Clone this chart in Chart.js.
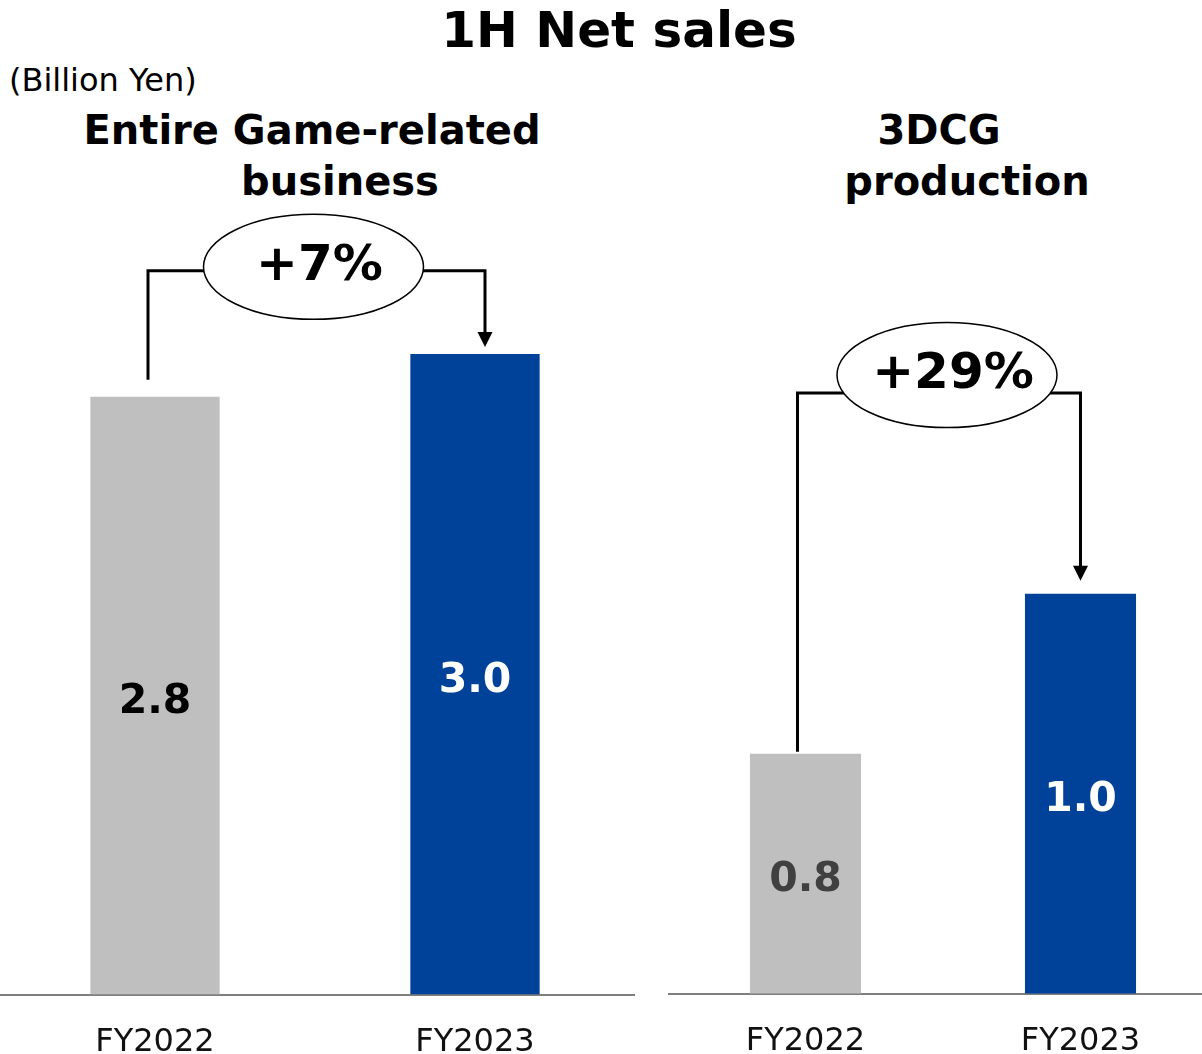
<!DOCTYPE html>
<html>
<head>
<meta charset="utf-8">
<title>1H Net sales</title>
<script src="https://cdn.jsdelivr.net/npm/chart.js@4.4.1/dist/chart.umd.min.js"></script>
<style>
    body {
        margin: 0;
        width: 1202px;
        height: 1054px;
        overflow: hidden;
        position: relative;
        background: #fff;
        font-family: 'DejaVu Sans', Verdana, sans-serif;
        color: #000;
    }
    .txt {
        position: absolute;
        white-space: nowrap;
        transform: translate(-50%, -50%);
    }
    #mainTitle { left: 619px; top: 30px; font-size: 50px; font-weight: bold; }
    #unit { left: 9px; top: 80px; font-size: 32px; transform: translate(0, -50%); }
    .sub { font-size: 40px; font-weight: bold; }
    .panel { position: absolute; top: 200px; }
    #gamePanel { left: -5px; width: 640px; height: 891px; }
    #cgPanel { left: 668px; width: 550px; height: 890px; }
</style>
</head>
<body>
<div id="mainTitle" class="txt">1H Net sales</div>
<div id="unit" class="txt">(Billion Yen)</div>
<div class="txt sub" style="left:312px; top:130px;">Entire Game-related</div>
<div class="txt sub" style="left:340px; top:181px;">business</div>
<div class="txt sub" style="left:939px; top:130px;">3DCG</div>
<div class="txt sub" style="left:967px; top:181px;">production</div>

<div id="gamePanel" class="panel"><canvas id="gameChart"></canvas></div>
<div id="cgPanel" class="panel"><canvas id="cgChart"></canvas></div>

<script>
const categories = ['FY2022', 'FY2023'];
const gameSales = [2.8, 3.0];
const cgSales = [0.8, 1.0];
const growthLabels = ['+7%', '+29%'];

const barColors = ['#bfbfbf', '#00419a'];
const FONT = "'DejaVu Sans', Verdana, sans-serif";

// value written in the middle of the visible part of each bar
const valueLabels = {
    id: 'valueLabels',
    afterDatasetsDraw(chart, args, opts) {
        const ctx = chart.ctx;
        const meta = chart.getDatasetMeta(0);
        const values = chart.data.datasets[0].data;
        const bottom = chart.chartArea.bottom;
        ctx.save();
        ctx.font = `bold 41px ${FONT}`;
        ctx.textAlign = 'center';
        ctx.textBaseline = 'middle';
        meta.data.forEach((bar, i) => {
            const base = Math.min(bar.base, bottom);
            ctx.fillStyle = opts.colors[i];
            ctx.fillText(values[i].toFixed(1), bar.x, (bar.y + base) / 2 + 7);
        });
        ctx.restore();
    }
};

// bracket from the FY2022 bar to the FY2023 bar with the growth rate in an ellipse
const growthBracket = {
    id: 'growthBracket',
    afterDatasetsDraw(chart, args, opts) {
        const ctx = chart.ctx;
        const meta = chart.getDatasetMeta(0);
        const yScale = chart.scales.y;
        const a = meta.data[0];
        const b = meta.data[1];
        const x1 = a.x + opts.fromDx;
        const x2 = b.x + opts.toDx;
        const level = yScale.getPixelForValue(opts.level);
        const startY = a.y - opts.startGap;
        const tipY = b.y - opts.tipGap;
        const cx = (x1 + x2) / 2 + opts.ellipseDx;
        const cy = level + opts.ellipseDy;

        ctx.save();
        ctx.strokeStyle = '#000';
        ctx.fillStyle = '#000';
        ctx.lineWidth = 3;
        ctx.beginPath();
        ctx.moveTo(x1, startY);
        ctx.lineTo(x1, level);
        ctx.lineTo(x2, level);
        ctx.lineTo(x2, tipY - 14);
        ctx.stroke();

        // arrow head
        ctx.beginPath();
        ctx.moveTo(x2 - 7.5, tipY - 15);
        ctx.lineTo(x2 + 7.5, tipY - 15);
        ctx.lineTo(x2, tipY);
        ctx.closePath();
        ctx.fill();

        // ellipse with the percentage
        ctx.beginPath();
        ctx.ellipse(cx, cy, 110, 52.5, 0, 0, Math.PI * 2);
        ctx.fillStyle = '#fff';
        ctx.fill();
        ctx.lineWidth = 1.5;
        ctx.stroke();

        ctx.fillStyle = '#000';
        ctx.font = `bold 50px ${FONT}`;
        ctx.textAlign = 'center';
        ctx.textBaseline = 'middle';
        ctx.fillText(opts.text, cx + 6, cy);
        ctx.restore();
    }
};

function makeChart(canvasId, values, yMin, yMax, padTop, valueColors, bracket) {
    const ctx = document.getElementById(canvasId).getContext('2d');
    return new Chart(ctx, {
        type: 'bar',
        data: {
            labels: categories,
            datasets: [{
                data: values,
                backgroundColor: barColors,
                borderWidth: 0,
                barPercentage: 0.404,
                categoryPercentage: 1.0,
            }],
        },
        options: {
            responsive: true,
            maintainAspectRatio: false,
            animation: false,
            layout: { padding: { top: padTop, left: 0, right: 0, bottom: 0 } },
            plugins: {
                legend: { display: false },
                title: { display: false },
                tooltip: { enabled: false },
                valueLabels: { colors: valueColors },
                growthBracket: bracket,
            },
            scales: {
                x: {
                    grid: { display: false, drawTicks: false },
                    border: { display: true, color: '#7f7f7f', width: 2 },
                    ticks: { color: '#111', padding: 29, font: { family: FONT, size: 32 } },
                },
                y: {
                    display: false,
                    min: yMin,
                    max: yMax,
                },
            },
        },
        plugins: [valueLabels, growthBracket],
    });
}

makeChart('gameChart', gameSales, 0, 3.6, 26, ['#000', '#fff'], {
    text: growthLabels[0],
    level: 3.39,
    fromDx: -7,
    toDx: 10,
    startGap: 17,
    tipGap: 7,
    ellipseDx: -3,
    ellipseDy: -4,
});

makeChart('cgChart', cgSales, 0.5, 1.45, 34, ['#404040', '#fff'], {
    text: growthLabels[1],
    level: 1.251,
    fromDx: -8,
    toDx: 0,
    startGap: 2,
    tipGap: 13,
    ellipseDx: 8,
    ellipseDy: -18,
});
</script>
</body>
</html>
